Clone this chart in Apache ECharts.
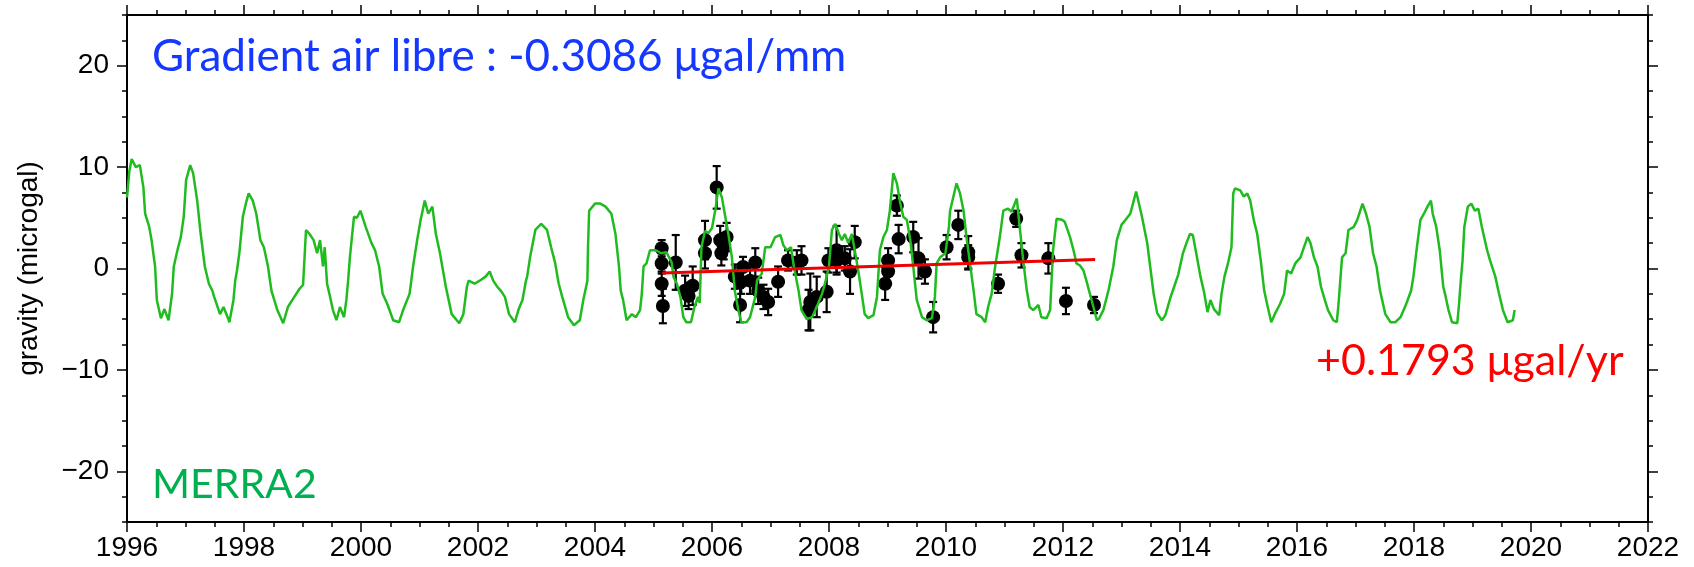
<!DOCTYPE html>
<html>
<head>
<meta charset="utf-8">
<script src="https://cdn.jsdelivr.net/npm/echarts@6/dist/echarts.min.js"></script>
<style>
  html, body { margin: 0; padding: 0; background: #fff; }
  #chart { width: 1694px; height: 567px; }
</style>
</head>
<body>
<div id="chart"></div>
<script>
// MERRA2 modelled gravity (decimal year, microgal)
const merraT = [
  1996.00, 1996.04, 1996.08, 1996.15, 1996.22, 1996.28, 1996.31, 1996.38, 1996.42, 1996.48,
  1996.51, 1996.58, 1996.64, 1996.71, 1996.77, 1996.80, 1996.87, 1996.92, 1996.97, 1997.01,
  1997.08, 1997.13, 1997.20, 1997.26, 1997.33, 1997.40, 1997.46, 1997.49, 1997.59, 1997.65,
  1997.72, 1997.75, 1997.82, 1997.85, 1997.88, 1997.92, 1997.98, 1998.04, 1998.08, 1998.15,
  1998.21, 1998.28, 1998.34, 1998.41, 1998.47, 1998.57, 1998.67, 1998.75, 1998.86, 1998.95,
  1999.01, 1999.06, 1999.12, 1999.19, 1999.25, 1999.30, 1999.35, 1999.38, 1999.42, 1999.46,
  1999.52, 1999.58, 1999.64, 1999.71, 1999.75, 1999.78, 1999.81, 1999.88, 1999.93, 1999.99,
  2000.08, 2000.18, 2000.24, 2000.31, 2000.37, 2000.45, 2000.55, 2000.65, 2000.72, 2000.83,
  2000.86, 2000.89, 2000.96, 2001.02, 2001.09, 2001.15, 2001.22, 2001.28, 2001.35, 2001.42,
  2001.45, 2001.55, 2001.68, 2001.75, 2001.81, 2001.84, 2001.94, 2002.03, 2002.13, 2002.20,
  2002.26, 2002.33, 2002.39, 2002.46, 2002.53, 2002.63, 2002.69, 2002.76, 2002.82, 2002.84,
  2002.89, 2002.98, 2003.08, 2003.18, 2003.25, 2003.32, 2003.38, 2003.44, 2003.54, 2003.64,
  2003.74, 2003.80, 2003.87, 2003.88, 2003.90, 2004.00, 2004.09, 2004.18, 2004.28, 2004.35,
  2004.41, 2004.44, 2004.48, 2004.54, 2004.63, 2004.70, 2004.77, 2004.80, 2004.83, 2004.88,
  2004.94, 2005.04, 2005.13, 2005.22, 2005.31, 2005.34, 2005.40, 2005.46, 2005.51, 2005.56,
  2005.64, 2005.70, 2005.76, 2005.79, 2005.82, 2005.88, 2005.94, 2006.00, 2006.06, 2006.11,
  2006.17, 2006.23, 2006.28, 2006.34, 2006.39, 2006.45, 2006.50, 2006.59, 2006.65, 2006.74,
  2006.77, 2006.85, 2006.91, 2007.00, 2007.08, 2007.17, 2007.22, 2007.28, 2007.35, 2007.40,
  2007.48, 2007.53, 2007.62, 2007.71, 2007.79, 2007.88, 2007.93, 2008.00, 2008.05, 2008.11,
  2008.17, 2008.22, 2008.27, 2008.33, 2008.39, 2008.44, 2008.50, 2008.56, 2008.61, 2008.67,
  2008.76, 2008.82, 2008.87, 2008.93, 2008.99, 2009.04, 2009.10, 2009.16, 2009.22, 2009.27,
  2009.33, 2009.39, 2009.44, 2009.50, 2009.59, 2009.67, 2009.76, 2009.81, 2009.84, 2009.90,
  2009.99, 2010.05, 2010.07, 2010.18, 2010.24, 2010.30, 2010.35, 2010.41, 2010.47, 2010.52,
  2010.61, 2010.67, 2010.72, 2010.78, 2010.84, 2010.92, 2010.98, 2011.06, 2011.12, 2011.21,
  2011.26, 2011.32, 2011.38, 2011.43, 2011.49, 2011.58, 2011.63, 2011.72, 2011.78, 2011.83,
  2011.89, 2011.98, 2012.03, 2012.12, 2012.18, 2012.23, 2012.29, 2012.35, 2012.40, 2012.46,
  2012.52, 2012.58, 2012.62, 2012.69, 2012.78, 2012.86, 2012.92, 2013.00, 2013.07, 2013.15,
  2013.21, 2013.25, 2013.29, 2013.35, 2013.44, 2013.49, 2013.55, 2013.61, 2013.69, 2013.75,
  2013.84, 2013.90, 2013.97, 2014.05, 2014.11, 2014.17, 2014.22, 2014.29, 2014.35, 2014.41,
  2014.47, 2014.52, 2014.58, 2014.67, 2014.71, 2014.76, 2014.82, 2014.88, 2014.91, 2014.94,
  2015.03, 2015.09, 2015.15, 2015.20, 2015.26, 2015.32, 2015.38, 2015.44, 2015.50, 2015.56,
  2015.62, 2015.71, 2015.78, 2015.83, 2015.90, 2015.97, 2016.06, 2016.12, 2016.18, 2016.23,
  2016.29, 2016.35, 2016.41, 2016.47, 2016.53, 2016.62, 2016.68, 2016.71, 2016.74, 2016.77,
  2016.83, 2016.88, 2016.97, 2017.03, 2017.12, 2017.18, 2017.24, 2017.30, 2017.36, 2017.42,
  2017.51, 2017.60, 2017.68, 2017.77, 2017.86, 2017.95, 2017.99, 2018.05, 2018.11, 2018.17,
  2018.23, 2018.29, 2018.32, 2018.38, 2018.44, 2018.50, 2018.53, 2018.59, 2018.65, 2018.74,
  2018.77, 2018.80, 2018.83, 2018.86, 2018.92, 2018.98, 2019.04, 2019.10, 2019.16, 2019.25,
  2019.30, 2019.39, 2019.45, 2019.52, 2019.60, 2019.69, 2019.72
];
const merraG = [
  7.0, 9.6, 10.8, 10.0, 10.2, 8.0, 5.4, 4.1, 2.8, 0.2,
  -3.1, -4.9, -4.0, -5.1, -2.5, 0.2, 2.0, 3.1, 5.1, 8.7,
  10.2, 9.4, 6.7, 3.4, 0.2, -1.5, -2.2, -2.8, -4.5, -3.8,
  -4.8, -5.3, -3.1, -1.2, -0.2, 1.5, 5.1, 6.6, 7.4, 6.7,
  5.4, 2.8, 2.1, 0.2, -2.2, -4.1, -5.4, -3.8, -2.8, -2.0,
  -1.6, 3.8, 3.4, 2.8, 1.5, 2.8, 0.2, 2.1, -1.5, -2.5,
  -4.1, -5.1, -3.8, -4.8, -3.1, -1.2, 1.1, 5.1, 5.0, 5.7,
  4.1, 2.5, 1.8, 0.2, -2.5, -3.5, -5.1, -5.3, -4.1, -2.5,
  -1.2, 0.2, 2.8, 4.8, 6.7, 5.4, 6.1, 3.4, 1.5, -0.8,
  -1.8, -4.5, -5.4, -4.5, -1.8, -1.2, -1.5, -1.2, -0.8, -0.3,
  -1.2, -1.8, -2.2, -2.8, -4.5, -5.3, -4.1, -3.1, -1.2, -0.8,
  1.1, 3.8, 4.4, 3.8, 2.1, 0.5, -1.5, -2.8, -4.8, -5.6,
  -5.1, -3.1, -1.2, 2.0, 5.7, 6.4, 6.4, 6.1, 5.4, 3.4,
  0.2, -2.2, -3.1, -5.1, -4.5, -4.8, -4.1, -2.5, 0.2, 0.5,
  1.8, 1.8, 1.5, 1.6, 0.6, -0.8, -1.5, -2.8, -4.8, -5.3,
  -5.3, -3.8, -2.8, -3.4, 2.1, 3.7, 3.5, 4.0, 5.9, 7.9,
  7.0, 5.0, 3.4, 1.1, -2.2, -4.1, -5.3, -5.3, -4.8, -2.8,
  -1.2, -0.5, 2.1, 2.1, 3.1, 3.3, 2.3, 1.8, 2.1, 0.2,
  -2.2, -4.1, -5.0, -4.8, -3.8, -2.5, -1.5, 0.2, 3.8, 4.4,
  3.4, 2.8, 3.4, 2.5, 3.4, 1.8, -0.2, -2.5, -4.5, -4.9,
  -4.6, -2.8, 1.8, 3.1, 3.8, 5.7, 9.4, 8.4, 6.4, 5.1,
  4.8, 2.8, 0.2, -3.1, -4.8, -5.1, -4.9, -2.8, 0.5, 1.1,
  1.5, 4.1, 5.7, 8.4, 7.4, 5.7, 3.1, 0.5, -2.1, -4.5,
  -4.8, -5.3, -3.8, -2.5, 0.2, 3.1, 5.7, 5.9, 5.6, 6.9,
  4.1, 0.8, -2.1, -3.8, -4.1, -3.6, -4.8, -4.9, -4.1, 1.8,
  4.9, 4.8, 4.6, 3.1, 1.8, 0.5, 0.3, -0.2, -1.2, -2.5,
  -3.8, -5.1, -4.9, -4.1, -2.1, 0.2, 2.8, 4.3, 4.8, 5.4,
  6.7, 7.6, 6.6, 5.1, 2.5, 0.2, -2.5, -4.4, -5.1, -4.6,
  -2.8, -1.8, -0.6, 1.5, 2.5, 3.4, 3.3, 1.1, -0.8, -2.3,
  -4.3, -3.1, -4.0, -4.6, -2.5, -0.8, 0.5, 2.1, 7.4, 7.9,
  7.7, 7.1, 7.4, 6.7, 4.8, 3.4, 0.8, -2.2, -3.8, -5.3,
  -4.5, -3.5, -2.5, -0.2, -0.5, 0.5, 1.1, 2.1, 3.1, 2.5,
  1.1, 0.2, -1.8, -3.0, -4.1, -5.1, -5.3, -3.5, -1.2, 1.1,
  1.5, 3.8, 4.1, 4.8, 6.4, 5.4, 4.1, 1.5, 0.2, -2.2,
  -4.5, -5.3, -5.3, -4.8, -3.6, -2.2, -0.8, 2.1, 4.8, 5.4,
  6.1, 6.7, 5.4, 4.1, 1.8, -1.8, -2.5, -4.1, -5.3, -5.4,
  -3.5, -1.2, 0.8, 4.1, 6.1, 6.4, 5.7, 5.9, 4.1, 1.8,
  0.8, -0.8, -2.4, -4.1, -5.3, -5.1, -4.1
];

// observed gravity residuals with error bars
const obsT = [
  2005.14, 2005.14, 2005.14, 2005.16, 2005.38, 2005.54, 2005.60, 2005.67, 2005.88, 2005.88,
  2006.08, 2006.14, 2006.16, 2006.20, 2006.25, 2006.39, 2006.48, 2006.50, 2006.53, 2006.65,
  2006.74, 2006.79, 2006.88, 2006.96, 2007.13, 2007.30, 2007.45, 2007.53, 2007.65, 2007.68,
  2007.79, 2007.96, 2007.99, 2008.13, 2008.13, 2008.27, 2008.36, 2008.44, 2008.96, 2009.01,
  2009.01, 2009.16, 2009.19, 2009.44, 2009.53, 2009.64, 2009.78, 2010.01, 2010.21, 2010.38,
  2010.38, 2010.89, 2011.20, 2011.29, 2011.75, 2012.05, 2012.53
];
const obsG = [
  2.0, 0.5, -1.5, -3.7, 0.6, -2.2, -2.7, -1.7, 2.8, 1.5,
  8.0, 2.8, 1.5, 2.2, 3.1, -0.8, -3.6, -1.3, 0.15, -1.2,
  0.6, -2.2, -2.8, -3.3, -1.3, 0.8, 0.6, 0.8, -4.1, -3.3,
  -2.8, -2.3, 0.8, 1.8, 0.8, 1.0, -0.3, 2.6, -1.5, 0.8,
  -0.3, 6.2, 2.9, 3.1, 1.0, -0.3, -4.8, 2.1, 4.3, 1.6,
  1.1, -1.5, 4.9, 1.3, 1.0, -3.2, -3.6
];
const obsErr = [
  0.8, 1.0, 1.2, 1.7, 2.7, 1.5, 1.3, 1.9, 1.9, 1.5,
  2.1, 1.4, 1.2, 1.3, 1.4, 1.2, 1.7, 1.2, 1.0, 1.3,
  1.4, 1.3, 1.2, 1.3, 1.5, 1.0, 1.2, 1.4, 2.0, 2.8,
  2.0, 2.0, 1.2, 2.4, 1.2, 1.2, 2.2, 1.6, 1.6, 1.2,
  1.2, 1.0, 1.4, 1.5, 2.0, 1.2, 1.5, 1.2, 1.4, 1.6,
  1.2, 0.9, 0.8, 1.2, 1.5, 1.3, 0.8
];

// linear trend (+0.1793 µgal/yr)
const trendT = [2005.15, 2012.55];
const trendG = [-0.45, 0.88];

// y-axis ticks
const yMajor = [-20, -10, 0, 10, 20];
const yMinor = [-25, -22.5, -17.5, -15, -12.5, -7.5, -5, -2.5, 2.5, 5, 7.5, 12.5, 15, 17.5, 22.5, 25];

const tickFont = 'Liberation Sans, Arial, sans-serif';
const black = '#000';

const chart = echarts.init(document.getElementById('chart'), null, { renderer: 'canvas' });

const axisLine = { show: true, onZero: false, lineStyle: { color: black, width: 2 } };
const tickStyle = { color: black, width: 1.5 };

function xAxis(position, showLabel) {
  return {
    type: 'value', min: 1996, max: 2022, interval: 2, position: position,
    axisLine: axisLine,
    axisTick: { show: true, inside: false, length: 10, lineStyle: tickStyle },
    minorTick: { show: true, splitNumber: 4, length: 5, lineStyle: tickStyle },
    splitLine: { show: false },
    axisLabel: {
      show: showLabel, margin: 12, fontSize: 28, color: black, fontFamily: tickFont,
      formatter: v => String(v)
    }
  };
}

function yAxis(position, values, len, showLine, showLabel) {
  return {
    type: 'value', min: -25, max: 25, position: position,
    axisLine: Object.assign({}, axisLine, { show: showLine }),
    axisTick: { show: true, inside: false, length: len, customValues: values, lineStyle: tickStyle },
    splitLine: { show: false },
    axisLabel: {
      show: showLabel, customValues: yMajor, margin: 18, fontSize: 28, color: black, fontFamily: tickFont,
      formatter: v => (v < 0 ? '\u2212' + Math.abs(v) : String(v))
    }
  };
}

const leftMajor = yAxis('left', yMajor, 10, true, true);
leftMajor.name = 'gravity (microgal)';
leftMajor.nameLocation = 'middle';
leftMajor.nameRotate = 90;
leftMajor.nameGap = 84;
leftMajor.nameTextStyle = { fontSize: 28, color: black, fontFamily: tickFont };

function renderErrorBar(params, api) {
  const t = api.value(0);
  const g = api.value(1);
  const e = api.value(2);
  const top = api.coord([t, g + e]);
  const bot = api.coord([t, g - e]);
  const cap = 4;
  const style = { stroke: black, lineWidth: 2.2 };
  return {
    type: 'group',
    children: [
      { type: 'line', shape: { x1: top[0], y1: top[1], x2: bot[0], y2: bot[1] }, style: style },
      { type: 'line', shape: { x1: top[0] - cap, y1: top[1], x2: top[0] + cap, y2: top[1] }, style: style },
      { type: 'line', shape: { x1: bot[0] - cap, y1: bot[1], x2: bot[0] + cap, y2: bot[1] }, style: style }
    ]
  };
}

const option = {
  animation: false,
  backgroundColor: '#fff',
  grid: { left: 127, right: 46, top: 15, bottom: 45 },
  xAxis: [xAxis('bottom', true), xAxis('top', false)],
  yAxis: [
    leftMajor,
    yAxis('right', yMajor, 10, true, false),
    yAxis('left', yMinor, 5, false, false),
    yAxis('right', yMinor, 5, false, false)
  ],
  series: [
    {
      type: 'custom',
      renderItem: renderErrorBar,
      encode: { x: 0, y: 1 },
      data: obsT.map((t, i) => [t, obsG[i], obsErr[i]]),
      z: 2
    },
    {
      type: 'scatter',
      symbol: 'circle',
      symbolSize: 14,
      itemStyle: { color: black, opacity: 1 },
      data: obsT.map((t, i) => [t, obsG[i]]),
      z: 3
    },
    {
      type: 'line',
      showSymbol: false,
      lineStyle: { color: '#1fbb1f', width: 2.5 },
      data: merraT.map((t, i) => [t, merraG[i]]),
      z: 4
    },
    {
      type: 'line',
      showSymbol: false,
      lineStyle: { color: '#f00000', width: 3 },
      data: trendT.map((t, i) => [t, trendG[i]]),
      z: 5
    }
  ],
  graphic: [
    {
      type: 'text', left: 152, top: 35,
      style: { text: 'Gradient air libre : -0.3086 \u03bcgal/mm', fill: '#1438ff', font: '44px Lato, "Noto Sans", sans-serif' }
    },
    {
      type: 'text', left: 1316, top: 340,
      style: { text: '+0.1793 \u03bcgal/yr', fill: '#ff0000', font: '43px Lato, "Noto Sans", sans-serif' }
    },
    {
      type: 'text', left: 152, top: 464,
      style: { text: 'MERRA2', fill: '#00b050', font: '41px Lato, "Noto Sans", sans-serif' }
    }
  ]
};

chart.setOption(option);
</script>
</body>
</html>
